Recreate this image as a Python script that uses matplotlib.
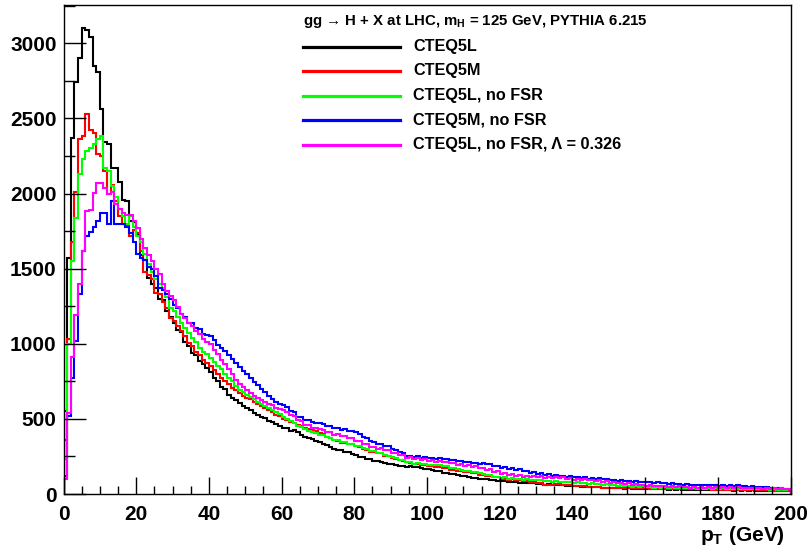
import matplotlib
matplotlib.use("Agg")
import matplotlib.pyplot as plt
from matplotlib.lines import Line2D
from matplotlib.ticker import MultipleLocator
import numpy as np

plt.rcParams['font.family'] = ['Liberation Sans', 'DejaVu Sans']
plt.rcParams['font.weight'] = 'bold'
plt.rcParams['mathtext.fontset'] = 'custom'
plt.rcParams['mathtext.rm'] = 'Liberation Sans:bold'
plt.rcParams['mathtext.bf'] = 'Liberation Sans:bold'
plt.rcParams['mathtext.it'] = 'Liberation Sans:bold'
plt.rcParams['mathtext.default'] = 'bf'

# 1 GeV bins from 0 to 200 GeV
bin_edges = np.arange(0, 201, 1)

cteq5l = [
    550, 1570, 2370, 2740, 2900, 3100, 3090, 3040, 2850, 2810,
    2560, 2340, 2330, 2170, 2170, 2080, 1960, 1950, 1820, 1810,
    1730, 1590, 1560, 1440, 1400, 1370, 1300, 1290, 1220, 1180,
    1140, 1090, 1080, 1010, 985, 940, 925, 885, 865, 840,
    815, 775, 750, 715, 700, 660, 642, 625, 608, 585,
    572, 558, 540, 528, 510, 504, 486, 482, 466, 454,
    438, 440, 420, 424, 412, 392, 382, 370, 364, 352,
    346, 336, 324, 316, 302, 294, 292, 280, 277, 266,
    260, 248, 247, 234, 233, 220, 219, 210, 206, 198,
    197, 190, 189, 184, 181, 185, 177, 177, 170, 169,
    165, 159, 151, 151, 143, 141, 133, 131, 125, 123,
    117, 115, 109, 109, 103, 103, 97, 95, 91, 89,
    85, 85, 79, 81, 77, 76, 73, 73, 71, 71,
    67, 67, 63, 64, 61, 60, 57, 58, 55, 54,
    51, 52, 49, 48, 45, 46, 44, 45, 41, 42,
    39, 41, 38, 39, 36, 37, 35, 36, 33, 35,
    32, 34, 31, 32, 30, 31, 29, 31, 28, 30,
    27, 29, 27, 28, 26, 28, 25, 27, 25, 26,
    24, 26, 24, 25, 23, 25, 22, 24, 22, 24,
    22, 23, 21, 22, 20, 23, 20, 22, 19, 21,
]

cteq5m = [
    360, 1035, 1680, 2010, 2360, 2380, 2530, 2420, 2400, 2260,
    2250, 2150, 2000, 2060, 1950, 1850, 1800, 1790, 1720, 1760,
    1740, 1620, 1480, 1460, 1430, 1340, 1330, 1280, 1240, 1170,
    1150, 1120, 1085, 1050, 1005, 985, 945, 925, 895, 875,
    855, 825, 800, 775, 750, 730, 705, 690, 670, 655,
    642, 630, 612, 600, 584, 572, 556, 548, 528, 518,
    502, 495, 478, 472, 460, 450, 438, 432, 423, 420,
    406, 398, 382, 375, 360, 354, 342, 342, 334, 332,
    320, 314, 298, 294, 280, 278, 270, 270, 256, 252,
    238, 234, 224, 222, 210, 208, 203, 202, 194, 194,
    188, 187, 180, 182, 174, 171, 162, 160, 153, 151,
    144, 145, 138, 137, 129, 128, 121, 119, 111, 110,
    103, 102, 96, 97, 91, 92, 85, 86, 80, 82,
    75, 73, 62, 60, 62, 66, 64, 62, 60, 58,
    56, 55, 52, 51, 48, 48, 45, 45, 43, 43,
    42, 42, 40, 41, 39, 40, 38, 38, 37, 38,
    37, 36, 35, 36, 34, 35, 34, 34, 33, 33,
    32, 32, 31, 31, 30, 31, 30, 30, 29, 29,
    28, 29, 28, 27, 27, 27, 26, 26, 25, 26,
    25, 24, 24, 24, 23, 23, 22, 23, 22, 22,
]

cteq5l_nofsr = [
    230, 1000, 1550, 1840, 2130, 2230, 2280, 2300, 2330, 2360,
    2380, 2170, 2150, 2050, 1980, 1900, 1850, 1800, 1850, 1780,
    1720, 1680, 1600, 1530, 1480, 1430, 1400, 1370, 1310, 1240,
    1215, 1180, 1140, 1105, 1070, 1040, 1010, 975, 945, 930,
    905, 880, 855, 830, 800, 775, 750, 720, 695, 680,
    662, 645, 630, 610, 596, 585, 570, 560, 545, 530,
    515, 500, 484, 470, 452, 446, 430, 422, 410, 406,
    396, 392, 382, 374, 362, 358, 348, 344, 334, 334,
    322, 318, 304, 300, 288, 284, 272, 272, 260, 256,
    244, 240, 228, 226, 214, 210, 203, 204, 198, 200,
    194, 196, 190, 192, 184, 184, 174, 172, 164, 162,
    154, 154, 148, 146, 138, 136, 126, 124, 116, 116,
    108, 110, 102, 104, 98, 100, 95, 98, 92, 95,
    90, 92, 86, 88, 82, 85, 80, 82, 78, 80,
    75, 78, 72, 74, 69, 72, 66, 68, 62, 64,
    58, 60, 54, 57, 52, 55, 49, 52, 47, 50,
    45, 48, 43, 46, 42, 45, 40, 44, 39, 42,
    38, 41, 37, 40, 36, 39, 35, 38, 34, 38,
    33, 37, 33, 36, 32, 36, 31, 35, 31, 35,
    30, 34, 30, 33, 29, 33, 29, 32, 28, 32,
]

cteq5m_nofsr = [
    120, 520, 770, 1020, 1330, 1620, 1720, 1745, 1775, 1820,
    1870, 1870, 1800, 1950, 1800, 1800, 1800, 1780, 1740, 1680,
    1600, 1570, 1560, 1510, 1500, 1450, 1370, 1360, 1330, 1300,
    1260, 1235, 1195, 1175, 1135, 1135, 1105, 1095, 1065, 1060,
    1050, 1025, 995, 975, 950, 925, 900, 870, 845, 820,
    800, 775, 745, 725, 700, 680, 655, 630, 615, 600,
    590, 580, 555, 545, 515, 515, 495, 495, 478, 474,
    470, 466, 450, 450, 438, 440, 428, 432, 422, 422,
    410, 400, 380, 372, 350, 344, 330, 332, 320, 318,
    302, 296, 278, 272, 256, 254, 246, 250, 242, 246,
    238, 242, 234, 240, 232, 236, 226, 228, 218, 220,
    210, 214, 206, 208, 202, 208, 198, 200, 188, 188,
    176, 178, 168, 172, 162, 164, 153, 154, 143, 144,
    136, 138, 129, 132, 123, 126, 117, 120, 114, 118,
    111, 114, 107, 110, 103, 106, 99, 104, 97, 100,
    93, 96, 89, 92, 85, 88, 81, 85, 79, 83,
    77, 81, 75, 79, 73, 76, 69, 72, 65, 68,
    61, 64, 59, 63, 58, 62, 57, 61, 57, 60,
    56, 60, 55, 59, 54, 57, 51, 54, 48, 52,
    46, 49, 44, 46, 41, 43, 37, 40, 33, 36,
]

cteq5l_nofsr_lambda = [
    100, 540, 910, 1190, 1400, 1620, 1885, 1890, 2006, 2073,
    2073, 2040, 1995, 2010, 1930, 1900, 1870, 1860, 1860, 1820,
    1772, 1700, 1640, 1590, 1550, 1500, 1466, 1400, 1354, 1320,
    1290, 1245, 1200, 1170, 1140, 1120, 1085, 1065, 1035, 1015,
    1000, 960, 930, 895, 865, 830, 800, 760, 735, 710,
    690, 675, 650, 640, 625, 610, 598, 590, 575, 565,
    557, 545, 526, 516, 492, 484, 462, 456, 440, 442,
    430, 428, 412, 412, 396, 398, 384, 386, 372, 370,
    352, 350, 334, 334, 316, 316, 302, 304, 290, 292,
    276, 276, 258, 258, 242, 244, 233, 239, 228, 232,
    222, 226, 216, 220, 210, 216, 204, 208, 196, 200,
    186, 190, 178, 184, 172, 176, 162, 164, 148, 156,
    136, 142, 128, 134, 120, 124, 114, 120, 112, 118,
    110, 118, 108, 116, 106, 114, 104, 110, 100, 106,
    96, 102, 92, 99, 90, 96, 88, 92, 82, 84,
    74, 78, 70, 74, 68, 72, 63, 67, 58, 62,
    54, 58, 52, 56, 50, 54, 48, 52, 46, 50,
    44, 48, 43, 47, 43, 47, 42, 46, 42, 46,
    42, 46, 41, 45, 40, 44, 39, 42, 38, 41,
    37, 40, 36, 39, 35, 38, 34, 37, 32, 35,
]

series_names = ["CTEQ5L", "CTEQ5M", "CTEQ5L, no FSR", "CTEQ5M, no FSR",
                "CTEQ5L, no FSR, \u039b = 0.326"]
series_values = [cteq5l, cteq5m, cteq5l_nofsr, cteq5m_nofsr, cteq5l_nofsr_lambda]
series_colors = ["#000000", "#ff0000", "#00ff00", "#0000ff", "#ff00ff"]

x_ticks = [0, 20, 40, 60, 80, 100, 120, 140, 160, 180, 200]
y_ticks = [0, 500, 1000, 1500, 2000, 2500, 3000]

W, H = 810, 556
fig = plt.figure(figsize=(W / 100, H / 100), dpi=100)
ax = fig.add_axes([63.5 / W, (H - 494) / H, (790.5 - 63.5) / W, (494 - 5) / H])

for vals, col in zip(series_values, series_colors):
    ax.stairs(vals, bin_edges, color=col, linewidth=1.5, baseline=0)

ax.set_xlim(0, 200)
ax.set_ylim(0, 3255)
ax.set_xticks(x_ticks)
ax.set_xticklabels([str(t) for t in x_ticks])
ax.set_yticks(y_ticks)
ax.set_yticklabels([str(t) for t in y_ticks])
ax.xaxis.set_minor_locator(MultipleLocator(5))
ax.yaxis.set_minor_locator(MultipleLocator(250))
ax.tick_params(axis='x', which='major', direction='in', length=12, width=1, labelsize=15, pad=8)
ax.tick_params(axis='x', which='minor', direction='in', length=6, width=1)
ax.tick_params(axis='y', which='major', direction='in', length=16, width=1, labelsize=15, pad=5)
ax.tick_params(axis='y', which='minor', direction='in', length=8, width=1)
for lab in ax.get_xticklabels() + ax.get_yticklabels():
    lab.set_fontweight('bold')
for s in ax.spines.values():
    s.set_linewidth(1)

fig.text(785 / W, 1 - 541 / H, r"p$_{T}$ (GeV)", ha='right', va='baseline',
         fontsize=15, fontweight='bold')

# Legend block
fig.text(303 / W, 1 - 25 / H, "gg \u2192 H + X at LHC, m$_{H}$ = 125 GeV, PYTHIA 6.215",
         ha='left', va='baseline', fontsize=10.8, fontweight='bold')
legend_y = [46.7, 71, 95.7, 120, 145]
for name, col, yy in zip(series_names, series_colors, legend_y):
    fy = 1 - yy / H
    fig.add_artist(Line2D([303 / W, 400 / W], [fy, fy], color=col, linewidth=2.3,
                          transform=fig.transFigure))
    fig.text(413 / W, fy, name, ha='left', va='center', fontsize=11.7, fontweight='bold')

fig.savefig("out.png", dpi=100)
